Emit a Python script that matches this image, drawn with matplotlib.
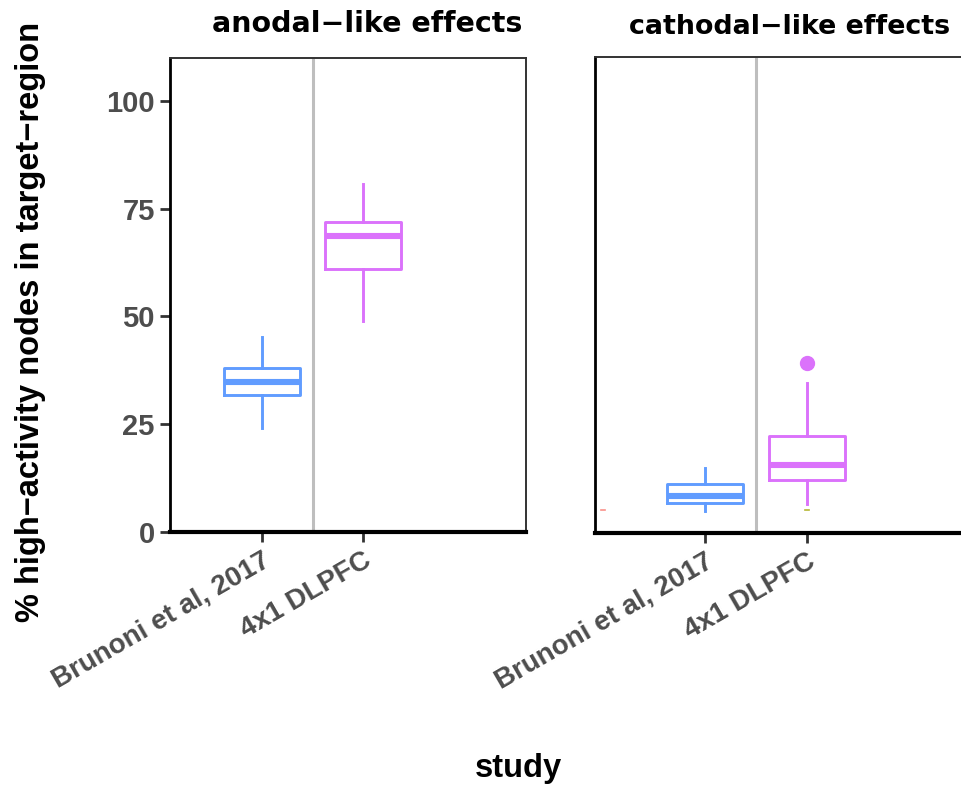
import matplotlib
matplotlib.use("Agg")
import matplotlib.pyplot as plt
from matplotlib.transforms import ScaledTranslation

# box summaries read per study: lower whisker, q1, median, q3, upper whisker
studies = ["Brunoni et al, 2017", "4x1 DLPFC"]
colors = ["#619CFF", "#DB72FB"]

anodal_stats = [
    [24.1, 31.7, 34.7, 37.9, 45.1],
    [49.0, 61.1, 68.7, 71.9, 80.7],
]
anodal_fliers = [[], []]

cathodal_stats = [
    [5.1, 7.0, 8.6, 11.4, 15.0],
    [6.7, 12.2, 15.7, 22.4, 34.6],
]
cathodal_fliers = [[], [39.4]]

# stray zero-width groups in the cathodal panel
stray_pos = [0, 2]
stray_val = [5.2, 5.2]
stray_col = ["#F8766D", "#A3A500"]

panel_titles = ["anodal\u2212like effects", "cathodal\u2212like effects"]
yticks = [0, 25, 50, 75, 100]

W, H = 962, 787
fig = plt.figure(figsize=(W / 100, H / 100), dpi=100)

def px_axes(x0, y0, x1, y1):
    return fig.add_axes([x0 / W, 1 - y1 / H, (x1 - x0) / W, (y1 - y0) / H])

ax1 = px_axes(170, 58, 526, 531.7)
ax2 = px_axes(595, 57, 1000, 533)

tick_font = dict(family="Liberation Sans", weight="bold", size=20, color="#4D4D4D")

def draw_panel(ax, stats, fliers, xlim):
    boxes = []
    for s, f in zip(stats, fliers):
        boxes.append(dict(whislo=s[0], q1=s[1], med=s[2], q3=s[3], whishi=s[4], fliers=f))
    for i, (b, c) in enumerate(zip(boxes, colors)):
        ax.bxp([b], positions=[i + 1], widths=0.75, showcaps=False,
               boxprops=dict(color=c, linewidth=2.1),
               whiskerprops=dict(color=c, linewidth=2.1),
               medianprops=dict(color=c, linewidth=4.4, solid_capstyle="butt"),
               flierprops=dict(marker="o", markerfacecolor=c, markeredgecolor=c,
                               markersize=10))
    ax.axvline(1.5, color="#BEBEBE", linewidth=2.2, zorder=0)
    ax.set_xlim(*xlim)
    ax.set_ylim(0, 110)
    ax.set_xticks([1, 2])
    ax.set_xticklabels(studies, rotation=30, ha="right", va="top",
                       rotation_mode="anchor", **tick_font)
    for lbl in ax.get_xticklabels():
        lbl.set_transform(lbl.get_transform() + ScaledTranslation(0.07, -0.04, fig.dpi_scale_trans))
    ax.tick_params(axis="x", length=7, width=2, color="#333333", pad=4)
    for side in ["top", "right"]:
        ax.spines[side].set_color("#333333")
        ax.spines[side].set_linewidth(1.4)
    ax.spines["left"].set_color("black")
    ax.spines["left"].set_linewidth(2.0)
    ax.spines["bottom"].set_color("black")
    ax.spines["bottom"].set_linewidth(3.0)

draw_panel(ax1, anodal_stats, anodal_fliers, (0.089, 3.614))
draw_panel(ax2, cathodal_stats, cathodal_fliers, (-0.078, 3.892))

ax1.set_yticks(yticks)
ax1.set_yticklabels([str(t) for t in yticks], **dict(tick_font, size=21))
ax1.tick_params(axis="y", length=7, width=2, color="#333333", pad=4)
ax2.set_yticks([])

for p, v, c in zip(stray_pos, stray_val, stray_col):
    ax2.plot([p - 0.02, p + 0.02], [v, v], color=c, linewidth=1.2, alpha=0.8)

title_font = dict(family="DejaVu Sans", weight="bold", color="black")
fig.text(367 / W, 1 - 24 / H, panel_titles[0], ha="center", va="center", size=20.5, **title_font)
fig.text(790 / W, 1 - 27 / H, panel_titles[1], ha="center", va="center", size=19.4, **title_font)

label_font = dict(family="Liberation Sans", weight="bold", size=23.5, color="black")
fig.text(31 / W, 1 - 322 / H, "% high\u2212activity nodes in target\u2212region",
         rotation=90, ha="center", va="center", **label_font)
fig.text(518 / W, 1 - 768 / H, "study", ha="center", va="center", **label_font)

fig.savefig("out.png", dpi=100)
